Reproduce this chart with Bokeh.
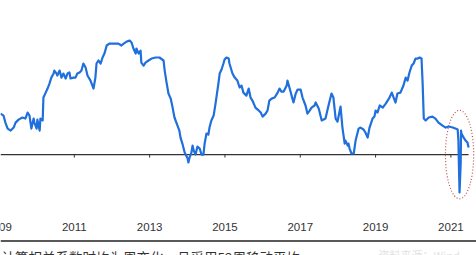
from bokeh.plotting import figure
from bokeh.models import Range1d
from bokeh.layouts import column
from bokeh.embed import file_html
from bokeh.resources import INLINE
from bokeh.core.properties import value

# Weekly-change correlation, 52-week moving average
years = [
    2009.04, 2009.12, 2009.17, 2009.23, 2009.31, 2009.39, 2009.44, 2009.52, 2009.62, 2009.70,
    2009.76, 2009.81, 2009.86, 2009.92, 2009.94, 2010.00, 2010.02, 2010.08, 2010.10, 2010.16,
    2010.18, 2010.24, 2010.29, 2010.34, 2010.39, 2010.45, 2010.47, 2010.53, 2010.55, 2010.61,
    2010.66, 2010.71, 2010.77, 2010.82, 2010.87, 2010.90, 2010.98, 2011.03, 2011.08, 2011.14,
    2011.19, 2011.24, 2011.30, 2011.35, 2011.43, 2011.46, 2011.51, 2011.56, 2011.59, 2011.64,
    2011.70, 2011.75, 2011.80, 2011.86, 2011.93, 2011.99, 2012.09, 2012.17, 2012.25, 2012.31,
    2012.39, 2012.47, 2012.52, 2012.57, 2012.63, 2012.65, 2012.71, 2012.76, 2012.78, 2012.84,
    2012.89, 2012.97, 2013.05, 2013.16, 2013.26, 2013.37, 2013.40, 2013.45, 2013.50, 2013.56,
    2013.61, 2013.66, 2013.74, 2013.79, 2013.82, 2013.87, 2013.93, 2014.01, 2014.03, 2014.06,
    2014.11, 2014.14, 2014.17, 2014.22, 2014.27, 2014.33, 2014.38, 2014.43, 2014.46, 2014.51,
    2014.56, 2014.59, 2014.64, 2014.70, 2014.75, 2014.83, 2014.86, 2014.91, 2014.96, 2014.99,
    2015.04, 2015.10, 2015.12, 2015.20, 2015.26, 2015.33, 2015.39, 2015.44, 2015.49, 2015.57,
    2015.63, 2015.68, 2015.73, 2015.81, 2015.87, 2015.95, 2016.00, 2016.08, 2016.13, 2016.18,
    2016.24, 2016.32, 2016.40, 2016.45, 2016.50, 2016.56, 2016.64, 2016.66, 2016.72, 2016.77,
    2016.82, 2016.88, 2016.93, 2017.01, 2017.06, 2017.14, 2017.19, 2017.25, 2017.30, 2017.38,
    2017.41, 2017.49, 2017.57, 2017.67, 2017.75, 2017.83, 2017.88, 2017.94, 2017.99, 2018.07,
    2018.12, 2018.18, 2018.20, 2018.26, 2018.28, 2018.31, 2018.36, 2018.42, 2018.47, 2018.55,
    2018.60, 2018.68, 2018.73, 2018.79, 2018.84, 2018.92, 2018.97, 2019.00, 2019.05, 2019.11,
    2019.19, 2019.27, 2019.37, 2019.43, 2019.48, 2019.53, 2019.58, 2019.66, 2019.74, 2019.80,
    2019.85, 2019.90, 2019.96, 2020.01, 2020.04, 2020.06, 2020.12, 2020.17, 2020.22, 2020.25,
    2020.28, 2020.33, 2020.41, 2020.51, 2020.59, 2020.67, 2020.78, 2020.86, 2020.94, 2021.05,
    2021.12, 2021.18, 2021.20, 2021.21, 2021.23, 2021.26, 2021.27, 2021.28, 2021.34, 2021.39,
    2021.44, 2021.47,
]
corr = [
    0.273, 0.260, 0.213, 0.173, 0.160, 0.180, 0.213, 0.233, 0.247, 0.240,
    0.280, 0.260, 0.173, 0.240, 0.213, 0.173, 0.233, 0.160, 0.240, 0.227,
    0.380, 0.413, 0.440, 0.473, 0.513, 0.540, 0.560, 0.540, 0.527, 0.560,
    0.513, 0.540, 0.507, 0.540, 0.547, 0.507, 0.513, 0.513, 0.540, 0.547,
    0.560, 0.607, 0.580, 0.527, 0.493, 0.473, 0.440, 0.513, 0.607, 0.627,
    0.607, 0.647, 0.673, 0.727, 0.740, 0.740, 0.740, 0.740, 0.727, 0.740,
    0.753, 0.760, 0.747, 0.707, 0.673, 0.707, 0.673, 0.693, 0.613, 0.593,
    0.613, 0.627, 0.640, 0.647, 0.647, 0.627, 0.560, 0.480, 0.407, 0.373,
    0.313, 0.247, 0.193, 0.160, 0.113, 0.073, 0.013, -0.027, -0.053, -0.020,
    0.013, 0.060, 0.027, 0.000, 0.053, 0.040, 0.000, 0.000, 0.073, 0.140,
    0.133, 0.180, 0.227, 0.260, 0.340, 0.480, 0.540, 0.567, 0.607, 0.633,
    0.647, 0.640, 0.607, 0.540, 0.513, 0.493, 0.447, 0.460, 0.413, 0.393,
    0.440, 0.380, 0.360, 0.313, 0.300, 0.280, 0.253, 0.273, 0.293, 0.360,
    0.373, 0.380, 0.413, 0.440, 0.420, 0.420, 0.460, 0.493, 0.440, 0.393,
    0.347, 0.407, 0.433, 0.433, 0.380, 0.327, 0.273, 0.293, 0.313, 0.327,
    0.347, 0.307, 0.227, 0.240, 0.327, 0.407, 0.380, 0.240, 0.220, 0.320,
    0.180, 0.073, 0.093, 0.060, 0.073, 0.040, 0.007, 0.007, 0.093, 0.173,
    0.180, 0.167, 0.147, 0.113, 0.180, 0.240, 0.253, 0.293, 0.280, 0.327,
    0.313, 0.340, 0.380, 0.413, 0.380, 0.347, 0.407, 0.413, 0.460, 0.513,
    0.493, 0.547, 0.593, 0.607, 0.627, 0.640, 0.640, 0.647, 0.640, 0.473,
    0.240, 0.227, 0.247, 0.253, 0.240, 0.213, 0.193, 0.180, 0.187, 0.180,
    0.173, 0.167, 0.093, -0.040, -0.253, -0.060, 0.160, 0.140, 0.113, 0.093,
    0.080, 0.047,
]

tick_years = [2009, 2011, 2013, 2015, 2017, 2019, 2021]
tick_labels = ["2009", "2011", "2013", "2015", "2017", "2019", "2021"]

# dotted ellipse that highlights the 2021 plunge (centre, width in years, height in corr units)
highlight_x = [2021.23]
highlight_y = [0.0]
highlight_w = 0.75
highlight_h = 0.59

caption = "计算相关系数时均为周变化，且采用52周移动平均"
source_note = "资料来源：Wind"

LINE_BLUE = "#1f6fdc"
AXIS_DARK = "#333333"
LABEL_Y = -0.48      # where the year labels sit, below the zero line
TICK_LEN = -0.02

p = figure(width=476, height=234,
           x_range=Range1d(2009.04, 2021.68), y_range=Range1d(-0.533, 1.027),
           output_backend="svg", toolbar_location=None,
           x_axis_location=None, y_axis_location=None,
           min_border_left=0, min_border_right=0, min_border_top=0, min_border_bottom=0)
p.outline_line_color = None
p.grid.visible = False
p.background_fill_color = "white"
p.border_fill_color = "white"

# zero line (the chart's x axis) and its small tick marks
p.line([p.x_range.start, years[-1]], [0, 0], line_color=AXIS_DARK, line_width=1.3)
p.segment(x0=tick_years, y0=[0] * len(tick_years), x1=tick_years, y1=[TICK_LEN] * len(tick_years),
          line_color=AXIS_DARK, line_width=1)

# year labels at the bottom of the chart
p.text(x=tick_years, y=[LABEL_Y] * len(tick_years), text=tick_labels,
       text_align="center", text_baseline="middle",
       text_font=value("Liberation Sans"), text_font_size="11.5px", text_color=AXIS_DARK)

p.ellipse(x=highlight_x, y=highlight_y, width=highlight_w, height=highlight_h,
          fill_color=None, line_color="#c0504d", line_dash="1 2", line_width=1.2)

p.line(years, corr, line_color=LINE_BLUE, line_width=2.2, line_join="round")

# caption strip under the chart
n = figure(width=476, height=21, x_range=Range1d(0, 476), y_range=Range1d(21, 0),
           output_backend="svg", toolbar_location=None,
           x_axis_location=None, y_axis_location=None,
           min_border_left=0, min_border_right=0, min_border_top=0, min_border_bottom=0)
n.outline_line_color = None
n.grid.visible = False
n.segment(x0=[0], y0=[6.5], x1=[476], y1=[6.5], line_color="#222222", line_width=1.6)
n.text(x=[1], y=[12], text=[caption], text_baseline="top", text_align="left",
       text_font=value("Noto Sans CJK SC"), text_font_size="13.5px", text_color="#333333")
n.text(x=[378], y=[12], text=[source_note], text_baseline="top", text_align="left",
       text_font=value("Noto Sans CJK SC"), text_font_size="11px", text_color="#e2e2e2")

layout = column(p, n, spacing=0)
open("out.html", "w").write(file_html(layout, INLINE))
